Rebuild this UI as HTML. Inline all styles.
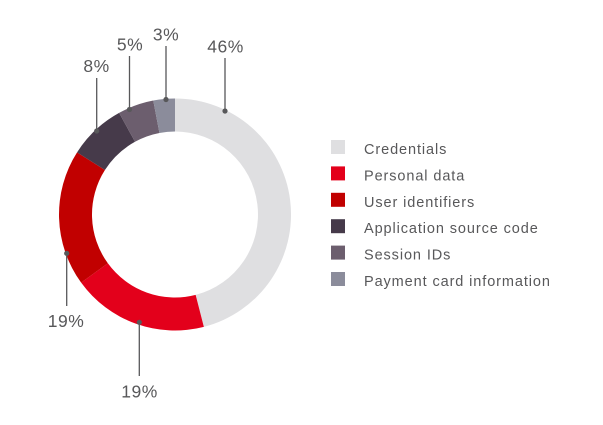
<!DOCTYPE html>
<html>
<head>
<meta charset="utf-8">
<style>
  html, body { margin: 0; padding: 0; background: #ffffff; }
  body { width: 603px; height: 425px; overflow: hidden; }
  svg { display: block; }
  .pct { font-family: "Liberation Sans", sans-serif; font-size: 17.5px; fill: #58585a; letter-spacing: 0.5px; }
  .leg { font-family: "Liberation Sans", sans-serif; font-size: 14.5px; fill: #58585a; letter-spacing: 0.9px; }
</style>
</head>
<body>
<svg width="603" height="425" viewBox="0 0 603 425" xmlns="http://www.w3.org/2000/svg">
  <!-- Donut segments -->
  <path d="M175,98.5 A116,116 0 0 1 203.85,326.86 L195.64,294.89 A83,83 0 0 0 175,131.5 Z" fill="#dfdfe1"/>
  <path d="M203.85,326.86 A116,116 0 0 1 81.16,282.68 L107.85,263.29 A83,83 0 0 0 195.64,294.89 Z" fill="#e3001b"/>
  <path d="M81.16,282.68 A116,116 0 0 1 77.06,152.35 L104.92,170.03 A83,83 0 0 0 107.85,263.29 Z" fill="#c10000"/>
  <path d="M77.06,152.35 A116,116 0 0 1 119.11,112.85 L135.01,141.77 A83,83 0 0 0 104.92,170.03 Z" fill="#463a4a"/>
  <path d="M119.11,112.85 A116,116 0 0 1 153.26,100.55 L159.45,132.97 A83,83 0 0 0 135.01,141.77 Z" fill="#6c5e6e"/>
  <path d="M153.26,100.55 A116,116 0 0 1 175,98.5 L175,131.5 A83,83 0 0 0 159.45,132.97 Z" fill="#8b8c9b"/>

  <!-- Leader lines -->
  <g stroke="#58585a" stroke-width="1.3" fill="none">
    <line x1="225" y1="58" x2="225" y2="111"/>
    <line x1="166" y1="46" x2="166" y2="99.5"/>
    <line x1="129.5" y1="56" x2="129.5" y2="109.5"/>
    <line x1="96.7" y1="78" x2="96.7" y2="131"/>
    <line x1="66.7" y1="253.3" x2="66.7" y2="306"/>
    <line x1="139.3" y1="322.3" x2="139.3" y2="376"/>
  </g>
  <g fill="#58585a">
    <circle cx="225" cy="111" r="2.6"/>
    <circle cx="166" cy="99.5" r="2.6"/>
    <circle cx="129.5" cy="109.5" r="2.6"/>
    <circle cx="96.7" cy="131" r="2.6"/>
    <circle cx="66.7" cy="253.3" r="2.6"/>
    <circle cx="139.3" cy="322.3" r="2.6"/>
  </g>

  <!-- Percent labels -->
  <text class="pct" x="225.5" y="52.5" text-anchor="middle">46%</text>
  <text class="pct" x="166" y="40.5" text-anchor="middle">3%</text>
  <text class="pct" x="130" y="50.5" text-anchor="middle">5%</text>
  <text class="pct" x="96.5" y="72" text-anchor="middle">8%</text>
  <text class="pct" x="66" y="327" text-anchor="middle">19%</text>
  <text class="pct" x="139.5" y="397.3" text-anchor="middle">19%</text>

  <!-- Legend -->
  <rect x="331" y="140" width="14" height="14" fill="#dfdfe1"/>
  <rect x="331" y="166.4" width="14" height="14" fill="#e3001b"/>
  <rect x="331" y="192.8" width="14" height="14" fill="#c10000"/>
  <rect x="331" y="219.2" width="14" height="14" fill="#463a4a"/>
  <rect x="331" y="245.6" width="14" height="14" fill="#6c5e6e"/>
  <rect x="331" y="272" width="14" height="14" fill="#8b8c9b"/>

  <text class="leg" x="364" y="154">Credentials</text>
  <text class="leg" x="364" y="180.4">Personal data</text>
  <text class="leg" x="364" y="206.8">User identifiers</text>
  <text class="leg" x="364" y="233.2">Application source code</text>
  <text class="leg" x="364" y="259.6">Session IDs</text>
  <text class="leg" x="364" y="286">Payment card information</text>
</svg>
</body>
</html>
